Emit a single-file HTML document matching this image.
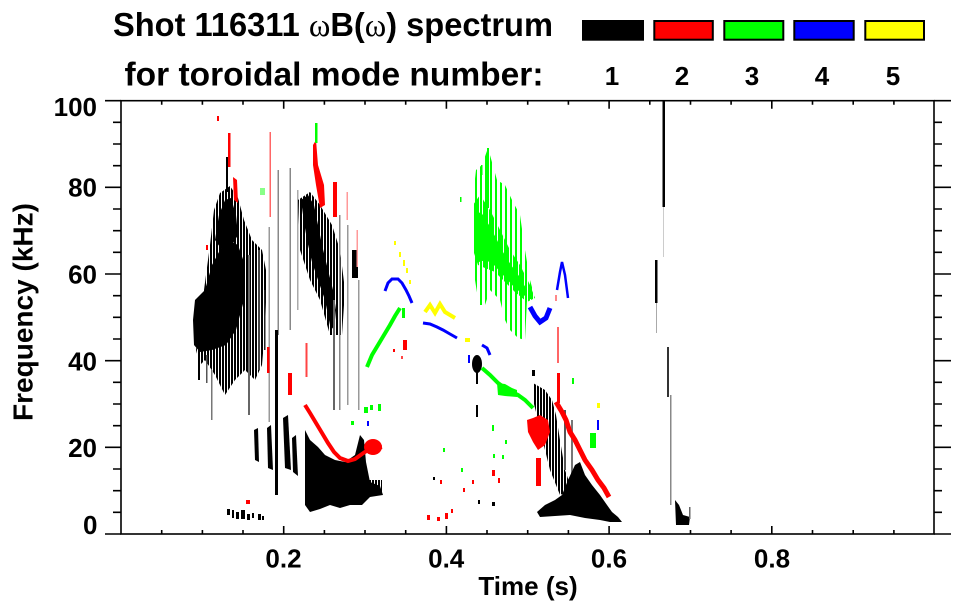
<!DOCTYPE html>
<html><head><meta charset="utf-8"><style>
html,body{margin:0;padding:0;background:#fff;}
svg{display:block;}
text{font-family:"Liberation Sans",Arial,sans-serif;font-weight:bold;fill:#000;}
</style></head><body>
<svg width="963" height="615" viewBox="0 0 963 615" xmlns="http://www.w3.org/2000/svg">
<defs>
<pattern id="vk" width="3" height="8" patternUnits="userSpaceOnUse"><rect width="2" height="8" fill="#000"/></pattern>
<pattern id="vk2" width="4" height="8" patternUnits="userSpaceOnUse"><rect width="2" height="8" fill="#000"/></pattern>
<pattern id="vg" width="3" height="8" patternUnits="userSpaceOnUse"><rect width="2" height="8" fill="#00ff00"/></pattern>
<pattern id="vg2" width="5" height="8" patternUnits="userSpaceOnUse"><rect width="2" height="8" fill="#00ff00"/></pattern>
</defs>
<rect width="963" height="615" fill="#fff"/>

<!-- Title -->
<text x="113" y="36" font-size="33" textLength="440" lengthAdjust="spacingAndGlyphs">Shot 116311 <tspan font-family="Liberation Serif" font-weight="normal">ω</tspan>B(<tspan font-family="Liberation Serif" font-weight="normal">ω</tspan>) spectrum</text>
<text x="124.5" y="85.5" font-size="33" textLength="419" lengthAdjust="spacingAndGlyphs">for toroidal mode number:</text>

<!-- Legend -->
<rect x="583" y="21" width="60" height="18.7" fill="#000" stroke="#000" stroke-width="2"/>
<rect x="654.3" y="21" width="58.5" height="18.7" fill="#ff0000" stroke="#000" stroke-width="2"/>
<rect x="724.3" y="21" width="59" height="18.7" fill="#00ff00" stroke="#000" stroke-width="2"/>
<rect x="794.3" y="21" width="59.4" height="18.7" fill="#0000ff" stroke="#000" stroke-width="2"/>
<rect x="865.3" y="21" width="58.7" height="18.7" fill="#ffff00" stroke="#000" stroke-width="2"/>
<g font-size="26" text-anchor="middle">
<text x="612" y="85">1</text><text x="682" y="85">2</text><text x="752" y="85">3</text><text x="822" y="85">4</text><text x="893" y="85">5</text>
</g>

<!-- DATA -->
<g>
<!-- left black mass -->
<polygon fill="url(#vk)" points="210,245 214,210 220,193 230,186 238,198 244,220 252,240 262,250 267,275 265,330 262,365 255,380 245,370 235,380 225,395 215,375 205,360 200,365 196,350"/>
<polygon fill="#000" points="195,300 205,290 212,265 220,250 228,240 238,245 245,265 244,300 236,330 226,345 212,350 200,352 194,345 193,320"/>
<polygon fill="#000" points="215,240 219,215 225,200 231,198 236,215 238,235 232,245 222,250"/>
<rect x="226" y="157" width="2" height="35" fill="#000"/>
<rect x="211" y="370" width="1.5" height="50" fill="#777"/>
<rect x="198" y="350" width="2" height="30" fill="#000"/>
<rect x="206" y="355" width="1.5" height="28" fill="#555"/>
<!-- thin streak lines -->
<rect x="277.5" y="170" width="1.5" height="165" fill="#888"/>
<rect x="289.5" y="168" width="1.5" height="162" fill="#888"/>
<rect x="268.5" y="227" width="1.5" height="195" fill="#999"/>
<rect x="248" y="255" width="2" height="160" fill="#666"/>
<rect x="258" y="250" width="2" height="120" fill="#444"/>
<rect x="264" y="290" width="1.5" height="60" fill="#222"/>
<rect x="297" y="190" width="1.5" height="120" fill="#aaa"/>
<!-- mid-lower streaks -->
<polygon fill="#000" points="254,430 258,428 259,462 255,460"/>
<polygon fill="#000" points="267,428 271,425 273,470 268,468"/>
<rect x="275" y="330" width="3" height="165" fill="#000"/>
<polygon fill="#000" points="283,418 288,415 291,470 285,468"/>
<polygon fill="#000" points="292,438 296,435 298,476 293,472"/>
<!-- right upper black mass -->
<polygon fill="url(#vk)" points="298,200 310,192 320,205 332,225 340,250 345,290 342,335 330,335 320,300 310,280 300,250"/>
<polygon fill="#000" points="301,200 308,195 314,205 318,225 322,245 328,270 333,290 336,310 334,330 330,325 325,300 318,280 312,262 307,240 304,222"/>
<rect x="339" y="215" width="1.5" height="195" fill="#888"/>
<rect x="347" y="225" width="1.5" height="180" fill="#999"/>
<rect x="352" y="250" width="6" height="28" fill="#000"/>
<rect x="358" y="280" width="1.5" height="130" fill="#999"/>
<rect x="333" y="300" width="2" height="110" fill="#666"/>
<!-- lower black mass -->
<polygon fill="#000" points="305,430 310,440 318,447 325,455 335,460 345,462 355,455 360,435 364,440 366,462 370,482 380,486 383,495 370,497 362,505 350,505 340,508 330,505 320,509 310,512 305,505"/>
<!-- red curve -->
<polyline fill="none" stroke="#ff0000" stroke-width="4" points="305,405 310,413 316,423 322,433 328,443 334,452 340,458 348,461 355,459 362,454 368,450 376,448 382,447"/>
<ellipse cx="373" cy="447" rx="9" ry="8" fill="#ff0000"/>
<!-- upper red streaks -->
<rect x="228" y="133" width="2.5" height="34" fill="#ff0000"/>
<polygon fill="#ff0000" points="233,177 237,180 238,203 234,200"/>
<rect x="217" y="116" width="2" height="5" fill="#ff0000"/>
<rect x="269.5" y="132" width="1.5" height="85" fill="#ff6666"/>
<polygon fill="#ff0000" points="313,145 316,140 318,165 324,185 325,205 320,208 316,185 313,165"/>
<rect x="333" y="182" width="4" height="35" fill="#ff0000"/>
<rect x="346.5" y="192" width="1.5" height="28" fill="#ff9999"/>
<rect x="356.5" y="230" width="1.5" height="37" fill="#ff9999"/>
<rect x="267" y="347" width="2.5" height="26" fill="#ff0000"/>
<rect x="288" y="373" width="4" height="22" fill="#ff0000"/>
<rect x="305.5" y="343" width="2" height="34" fill="#ff4444"/>
<rect x="206" y="245" width="2" height="5" fill="#ff0000"/>
<rect x="246" y="500" width="4" height="4" fill="#ff0000"/>
<!-- greens upper-left -->
<rect x="315" y="123" width="2.5" height="20" fill="#00ff00"/>
<rect x="260" y="188" width="5" height="7" fill="#88ff88"/>
<!-- bottom-left specks -->
<g fill="#000">
<rect x="227" y="509" width="3" height="6"/><rect x="232" y="510" width="2" height="8"/><rect x="236" y="512" width="3" height="7"/><rect x="241" y="510" width="4" height="9"/><rect x="247" y="514" width="3" height="6"/><rect x="252" y="513" width="2" height="5"/><rect x="258" y="514" width="3" height="6"/><rect x="262" y="516" width="2" height="4"/>
</g>
<!-- greens around 0.3 -->
<g fill="#00ff00">
<rect x="364" y="407" width="4" height="6"/><rect x="370" y="405" width="3" height="5"/><rect x="378" y="404" width="3" height="7"/><rect x="351" y="421" width="3" height="4"/>
</g>
<rect x="367" y="421" width="2" height="5" fill="#0000ff"/>
<rect x="360" y="480" width="22" height="12" fill="url(#vk)"/>

<!-- yellow sparse upper -->
<g fill="#ffff00">
<rect x="394" y="241" width="2" height="4"/><rect x="399" y="252" width="2" height="5"/><rect x="403" y="260" width="2" height="6"/><rect x="406" y="268" width="2" height="5"/><rect x="409" y="280" width="2" height="4"/>
</g>
<!-- blue arc -->
<polyline fill="none" stroke="#0000ff" stroke-width="3" points="385,291 388,283 392,279 398,279 402,283 406,290 409,296 412,303"/>
<!-- green rising line -->
<polyline fill="none" stroke="#00ff00" stroke-width="4" points="367,367 372,355 378,345 384,335 390,325 395,316 400,308"/>
<rect x="402" y="308" width="3" height="10" fill="#00ff00"/>
<rect x="403" y="340" width="4" height="10" fill="#ff0000"/>
<rect x="393" y="349" width="2" height="3" fill="#ff0000"/>
<rect x="401" y="356" width="2" height="3" fill="#ff4444"/>
<!-- yellow W -->
<polyline fill="none" stroke="#ffff00" stroke-width="4" points="425,312 430,305 435,313 440,304 445,312 450,315 455,318"/>
<!-- blue line -->
<polyline fill="none" stroke="#0000ff" stroke-width="3" points="423,323 430,324 437,327 443,330 450,334 457,338"/>
<rect x="465" y="338" width="5" height="4" fill="#ffff00"/>
<polyline fill="none" stroke="#0000ff" stroke-width="3" points="482,345 487,348 490,355"/>
<rect x="468" y="355" width="2" height="8" fill="#0000ff"/>
<!-- black blob 0.43 -->
<ellipse cx="477" cy="364" rx="5" ry="9" fill="#000"/>
<rect x="476" y="370" width="2" height="14" fill="#000"/>
<rect x="476" y="405" width="2" height="12" fill="#000"/>
<!-- green descending line -->
<polyline fill="none" stroke="#00ff00" stroke-width="4" points="482,368 490,375 498,383 505,388 512,392 518,395 525,400 533,408"/>
<polygon fill="#00ff00" points="497,383 505,384 512,388 517,390 517,397 505,396 498,395"/>
<!-- big green region -->
<polygon fill="url(#vg2)" points="472,205 476,170 482,165 488,148 497,180 505,185 512,200 520,215 525,250 530,280 535,298 527,300 525,340 518,338 510,330 505,320 500,300 490,290 485,305 479,305 475,280 472,250"/>
<polygon fill="url(#vg)" points="473,205 480,195 490,210 500,230 510,250 520,265 530,285 535,298 527,302 515,292 505,282 495,272 485,268 478,265 473,250"/>
<polygon fill="#00ff00" points="474,215 481,212 489,225 496,238 503,252 511,265 519,276 527,290 525,296 514,287 504,276 494,265 486,260 479,262 474,250"/>
<rect x="487" y="148" width="2" height="60" fill="#00ff00"/>
<rect x="481" y="165" width="1.5" height="10" fill="#00ff00"/>
<rect x="460" y="197" width="1.5" height="5" fill="#00ff00"/>
<!-- blue U -->
<polyline fill="none" stroke="#0000ff" stroke-width="5" points="530,307 535,316 540,322 546,318 550,308"/>
<polyline fill="none" stroke="#0000ff" stroke-width="2.5" points="557,290 560,272 562,262 565,275 568,298"/>
<!-- red thin -->
<rect x="557" y="327" width="2" height="36" fill="#ff6666"/>
<rect x="557" y="373" width="3" height="30" fill="#ff0000"/>
<rect x="555" y="295" width="2" height="6" fill="#ff8888"/>
<!-- black scatter 0.5 -->
<polygon fill="url(#vk)" points="533,383 545,390 552,400 556,415 560,440 565,470 572,490 560,495 550,470 545,450 538,420 533,400"/>
<rect x="564" y="410" width="2" height="60" fill="#555"/>
<rect x="571" y="420" width="2" height="60" fill="#777"/>
<!-- red blob -->
<polygon fill="#ff0000" points="527,420 533,418 540,415 548,420 550,432 545,445 538,450 533,442 528,432"/>
<rect x="536" y="458" width="5" height="28" fill="#ff0000"/>
<!-- red diagonal -->
<polyline fill="none" stroke="#ff0000" stroke-width="5" points="556,402 562,412 566,420 570,432 575,440 580,450 585,460 592,470 598,480 604,488 609,497"/>
<!-- big black lower -->
<polygon fill="#000" points="537,512 545,505 555,500 562,495 568,480 575,465 580,462 585,475 592,485 600,495 607,505 612,512 618,517 622,522 610,522 600,520 585,518 570,515 555,516 540,517"/>
<!-- small right bits -->
<rect x="590" y="433" width="6" height="15" fill="#00ff00"/>
<rect x="597" y="420" width="2" height="10" fill="#0000ff"/>
<rect x="597" y="403" width="3" height="5" fill="#ffff00"/>
<rect x="572" y="378" width="2" height="6" fill="#00ff00"/>
<!-- black vertical line ~0.67 -->
<rect x="662.5" y="100" width="2.5" height="107" fill="#000"/>
<rect x="655" y="260" width="2.5" height="43" fill="#000"/>
<rect x="656" y="303" width="1" height="30" fill="#aaa"/>
<rect x="663" y="207" width="1" height="50" fill="#ccc"/>
<rect x="667" y="347" width="2" height="50" fill="#333"/>
<rect x="670" y="395" width="1.5" height="110" fill="#888"/>
<polygon fill="#000" points="675,500 679,505 683,515 690,517 689,525 676,525"/>
<rect x="689" y="507" width="1.5" height="12" fill="#666"/>
<!-- scattered low specks -->
<g fill="#ff0000">
<rect x="427" y="515" width="3" height="5"/><rect x="437" y="517" width="3" height="4"/><rect x="445" y="513" width="3" height="6"/><rect x="451" y="509" width="2" height="4"/><rect x="463" y="488" width="2" height="4"/><rect x="472" y="480" width="2" height="4"/><rect x="492" y="470" width="3" height="6"/><rect x="498" y="478" width="2" height="5"/><rect x="440" y="480" width="2" height="4"/>
</g>
<g fill="#00ff00">
<rect x="443" y="448" width="2" height="4"/><rect x="461" y="468" width="2" height="4"/><rect x="493" y="454" width="2" height="4"/><rect x="502" y="455" width="2" height="4"/><rect x="505" y="440" width="2" height="4"/><rect x="492" y="425" width="2" height="6"/>
</g>
<g fill="#000">
<rect x="478" y="500" width="2" height="4"/><rect x="492" y="502" width="3" height="4"/><rect x="433" y="477" width="2" height="3"/><rect x="532" y="370" width="3" height="6"/>
</g>
</g>

<!-- AXES -->
<g stroke="#000" stroke-width="1.6" fill="none">
<rect x="121" y="100.7" width="813" height="433.3"/>
<!-- left y ticks -->
<path d="M105,534H121M105,447.3H121M105,360.7H121M105,274H121M105,187.3H121M105,100.7H121"/>
<path d="M113,512.3H121M113,490.7H121M113,469H121M113,425.7H121M113,404H121M113,382.3H121M113,339H121M113,317.3H121M113,295.7H121M113,252.3H121M113,230.7H121M113,209H121M113,165.7H121M113,144H121M113,122.3H121"/>
<!-- right y ticks -->
<path d="M934,534H951M934,447.3H951M934,360.7H951M934,274H951M934,187.3H951M934,100.7H951"/>
<path d="M934,512.3H942M934,490.7H942M934,469H942M934,425.7H942M934,404H942M934,382.3H942M934,339H942M934,317.3H942M934,295.7H942M934,252.3H942M934,230.7H942M934,209H942M934,165.7H942M934,144H942M934,122.3H942"/>
<!-- bottom x ticks -->
<path d="M283.7,534V526M446.4,534V526M609.1,534V526M771.8,534V526"/>
<path d="M161.7,534V530M202.4,534V530M243,534V530M324.4,534V530M365,534V530M405.7,534V530M487,534V530M527.7,534V530M568.4,534V530M649.8,534V530M690.5,534V530M731.1,534V530M812.5,534V530M853.2,534V530M893.9,534V530"/>
<!-- top x ticks -->
<path d="M283.7,100.7V108.7M446.4,100.7V108.7M609.1,100.7V108.7M771.8,100.7V108.7"/>
<path d="M161.7,100.7V104.7M202.4,100.7V104.7M243,100.7V104.7M324.4,100.7V104.7M365,100.7V104.7M405.7,100.7V104.7M487,100.7V104.7M527.7,100.7V104.7M568.4,100.7V104.7M649.8,100.7V104.7M690.5,100.7V104.7M731.1,100.7V104.7M812.5,100.7V104.7M853.2,100.7V104.7M893.9,100.7V104.7"/>
</g>

<!-- Y tick labels -->
<g font-size="26" text-anchor="end">
<text x="97" y="116">100</text>
<text x="97" y="196.5">80</text>
<text x="97" y="283.5">60</text>
<text x="97" y="370.5">40</text>
<text x="97" y="457">20</text>
<text x="97.5" y="534">0</text>
</g>
<!-- X tick labels -->
<g font-size="26" text-anchor="middle">
<text x="283.5" y="567.5">0.2</text>
<text x="446.2" y="567.5">0.4</text>
<text x="609" y="567.5">0.6</text>
<text x="772" y="567.5">0.8</text>
</g>
<text x="528" y="595" font-size="26" text-anchor="middle">Time (s)</text>
<text transform="translate(32.5,312) rotate(-90)" font-size="28" text-anchor="middle" textLength="218" lengthAdjust="spacingAndGlyphs">Frequency (kHz)</text>
</svg>
</body></html>
